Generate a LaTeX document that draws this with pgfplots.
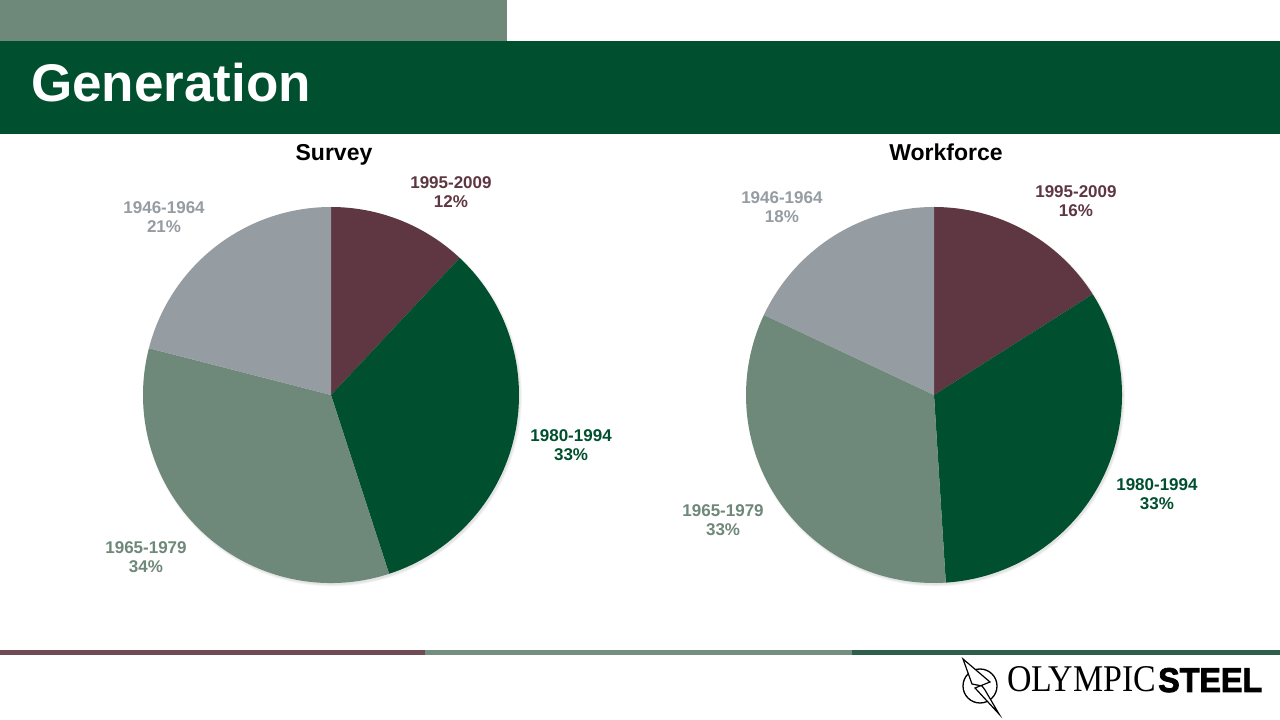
\documentclass[border=0pt]{standalone}
\usepackage{fontspec}
\setmainfont{Liberation Sans}
\newfontfamily\seriffont{Liberation Serif}
\newfontfamily\heavyfont{Liberation Sans}[BoldFeatures={FakeBold=2.5}]
\usepackage{graphicx}
\usepackage{pgfplots}
\usepackage{pgfplotstable}
\pgfplotsset{compat=1.18}

\definecolor{cMaroon}{HTML}{5E3742}
\definecolor{cDkGreen}{HTML}{004F2E}
\definecolor{cGGreen}{HTML}{6E8879}
\definecolor{cGrey}{HTML}{959CA2}
\definecolor{cHeader}{HTML}{00502F}
\definecolor{cLineGreen}{HTML}{2F5F4A}

\pgfplotstableread{
label value lx ly col
1995-2009 12 0.638 1.080 cMaroon
1980-1994 33 1.277 -0.266 cDkGreen
1965-1979 34 -0.984 -0.862 cGGreen
1946-1964 21 -0.888 0.947 cGrey
}\survey

\pgfplotstableread{
label value lx ly col
1995-2009 16 0.755 1.032 cMaroon
1980-1994 33 1.186 -0.527 cDkGreen
1965-1979 33 -1.122 -0.665 cGGreen
1946-1964 18 -0.809 1.000 cGrey
}\workforce

\newcommand{\drawpie}[1]{%
  \foreach \k in {1,2,3}{%
    \fill[black, opacity=0.035] (axis cs:0,0) ++(1.5pt,-2pt) circle[radius={187pt+\k*0.8pt}];
  }%
  \gdef\curang{90}%
  \foreach \i in {0,1,2,3}{%
    \pgfplotstablegetelem{\i}{value}\of#1\let\val\pgfplotsretval
    \pgfplotstablegetelem{\i}{col}\of#1\let\col\pgfplotsretval
    \pgfmathsetmacro\endang{\curang-3.6*\val}%
    \fill[fill=\col] (axis cs:0,0) -- ++(\curang:188pt) arc[start angle=\curang, end angle=\endang, radius=188pt] -- cycle;
    \xdef\curang{\endang}%
  }%
  \foreach \i in {0,1,2,3}{%
    \pgfplotstablegetelem{\i}{value}\of#1\let\val\pgfplotsretval
    \pgfplotstablegetelem{\i}{label}\of#1\let\lab\pgfplotsretval
    \pgfplotstablegetelem{\i}{lx}\of#1\let\lx\pgfplotsretval
    \pgfplotstablegetelem{\i}{ly}\of#1\let\ly\pgfplotsretval
    \pgfplotstablegetelem{\i}{col}\of#1\let\col\pgfplotsretval
    \node[text=\col, align=center, inner sep=0pt, font=\fontsize{17}{19.5}\selectfont\bfseries]
      at (axis cs:\lx,\ly) {\lab\\\val\%};
  }%
}

\begin{document}
\begin{tikzpicture}[x=1pt,y=1pt]
\fill[white] (0,0) rectangle (1280,720);
% header
\fill[cGGreen] (0,679) rectangle (507,720);
\fill[cHeader] (0,586) rectangle (1280,679);
\node[anchor=base west, inner sep=0pt, text=white, font=\fontsize{53}{60}\selectfont\bfseries] at (31,618) {Generation};
% titles
\node[anchor=base, inner sep=0pt, font=\fontsize{23}{27}\selectfont\bfseries] at (334,559) {Survey};
\node[anchor=base, inner sep=0pt, font=\fontsize{23}{27}\selectfont\bfseries] at (946,559) {Workforce};

\begin{axis}[at={(331pt,325pt)}, anchor=center, width=376pt, height=376pt, scale only axis,
  xmin=-1, xmax=1, ymin=-1, ymax=1, hide axis, clip=false]
\pgfplotsextra{\drawpie{\survey}}
\end{axis}

\begin{axis}[at={(934pt,325pt)}, anchor=center, width=376pt, height=376pt, scale only axis,
  xmin=-1, xmax=1, ymin=-1, ymax=1, hide axis, clip=false]
\pgfplotsextra{\drawpie{\workforce}}
\end{axis}

% bottom lines
\fill[cMaroon!90!white] (0,65) rectangle (425,70);
\fill[cGGreen!95!white] (425,65) rectangle (852,70);
\fill[cLineGreen] (852,65) rectangle (1280,70);

% logo
\draw[line width=1.3pt] (980,34) circle[radius=17];
\draw[line width=1.2pt, line join=miter, fill=white] (963,61) -- (990,38) -- (975,32) -- (999,6) -- (985,30) -- (982,34) -- (972,36) -- cycle;
\node[anchor=base west, inner sep=0pt] at (1007,28) {\resizebox{149pt}{25pt}{\seriffont OLYMPIC}};
\node[anchor=base west, inner sep=0pt] at (1158,28) {\resizebox{104pt}{24pt}{\heavyfont\bfseries STEEL}};
\end{tikzpicture}
\end{document}
